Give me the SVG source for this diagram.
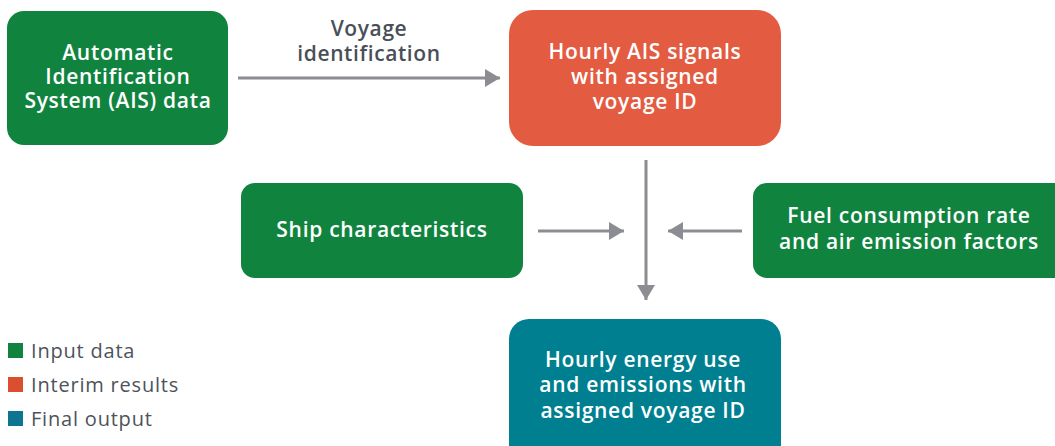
<svg xmlns="http://www.w3.org/2000/svg" width="1055" height="446" viewBox="0 0 1055 446">
  <style>
    .box-text { font-family: "Open Sans", "Liberation Sans", sans-serif; font-size: 21px; font-weight: 600; letter-spacing: 0.7px; fill: #ffffff; text-anchor: middle; }
    .label { font-family: "Open Sans", "Liberation Sans", sans-serif; font-size: 21px; font-weight: 600; letter-spacing: 0.6px; fill: #4a4f57; text-anchor: middle; }
    .legend { font-family: "Open Sans", "Liberation Sans", sans-serif; font-size: 20px; letter-spacing: 0.8px; fill: #4d535b; }
    .conn { stroke: #8c8d92; stroke-width: 3; fill: none; }
    .input { fill: #10843f; }
    .interim { fill: #e35b41; }
    .final { fill: #007f91; }
  </style>
  <defs>
    <marker id="arrow" markerUnits="userSpaceOnUse" markerWidth="16" markerHeight="18" refX="15" refY="9" orient="auto">
      <path d="M0,0 L15,9 L0,18 Z" fill="#8c8d92"/>
    </marker>
  </defs>

  <rect width="1055" height="446" fill="#ffffff"/>

  <g id="connectors">
    <line class="conn" x1="238" y1="78" x2="500" y2="78" marker-end="url(#arrow)"/>
    <line class="conn" x1="646" y1="160" x2="646" y2="300" marker-end="url(#arrow)"/>
    <line class="conn" x1="538" y1="231" x2="624" y2="231" marker-end="url(#arrow)"/>
    <line class="conn" x1="742" y1="231" x2="668" y2="231" marker-end="url(#arrow)"/>
    <text class="label" x="369" y="36">Voyage</text>
    <text class="label" x="369" y="61">identification</text>
  </g>

  <g id="node-ais">
    <rect class="input" x="7" y="11" width="221" height="134" rx="17"/>
    <text class="box-text" x="118" y="60">Automatic</text>
    <text class="box-text" x="118" y="84">Identification</text>
    <text class="box-text" x="118" y="108">System (AIS) data</text>
  </g>

  <g id="node-hourly-ais">
    <rect class="interim" x="509" y="10" width="272" height="136" rx="24"/>
    <text class="box-text" x="645" y="59">Hourly AIS signals</text>
    <text class="box-text" x="645" y="84">with assigned</text>
    <text class="box-text" x="645" y="109">voyage ID</text>
  </g>

  <g id="node-ship">
    <rect class="input" x="241" y="183" width="282" height="95" rx="14"/>
    <text class="box-text" x="382" y="237">Ship characteristics</text>
  </g>

  <g id="node-fuel">
    <rect class="input" x="753" y="183" width="320" height="95" rx="14"/>
    <text class="box-text" x="909" y="223">Fuel consumption rate</text>
    <text class="box-text" x="909" y="249">and air emission factors</text>
  </g>

  <g id="node-output">
    <rect class="final" x="509" y="319" width="272" height="150" rx="20"/>
    <text class="box-text" x="643" y="367">Hourly energy use</text>
    <text class="box-text" x="643" y="392">and emissions with</text>
    <text class="box-text" x="643" y="418">assigned voyage ID</text>
  </g>

  <g id="legend">
    <rect class="input" x="8" y="343" width="15" height="15"/>
    <text class="legend" x="31" y="358">Input data</text>
    <rect fill="#d94f2f" x="8" y="377" width="15" height="15"/>
    <text class="legend" x="31" y="392">Interim results</text>
    <rect fill="#0d7590" x="8" y="411" width="15" height="15"/>
    <text class="legend" x="31" y="426">Final output</text>
  </g>
</svg>
